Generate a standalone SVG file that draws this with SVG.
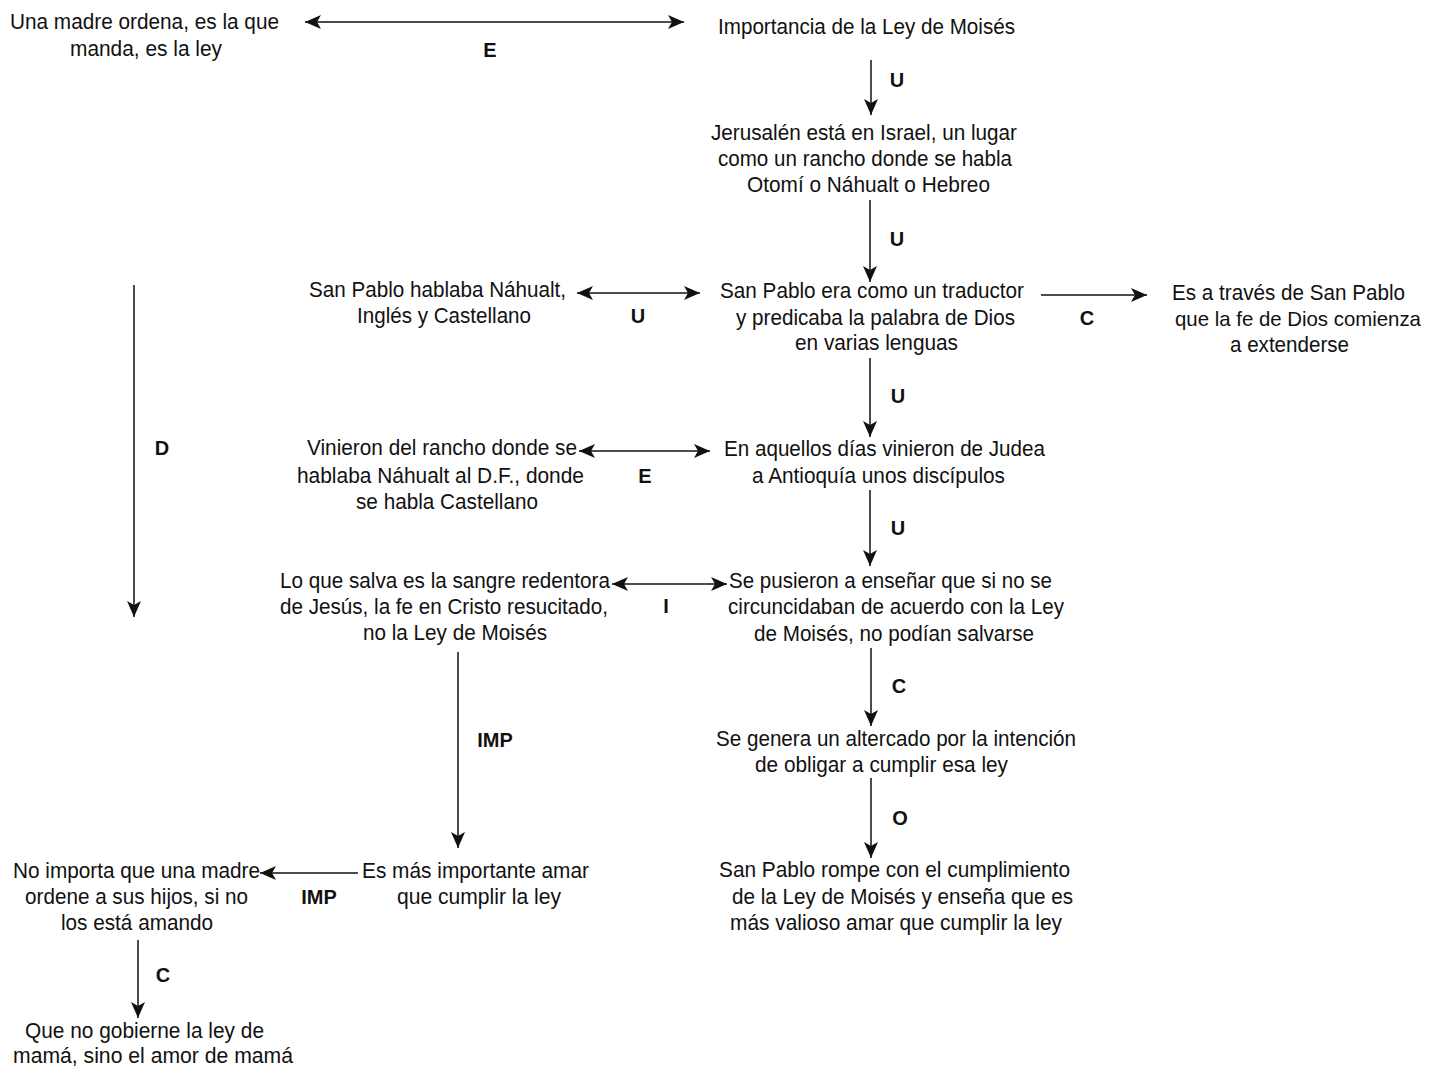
<svg xmlns="http://www.w3.org/2000/svg" width="1429" height="1068" viewBox="0 0 1429 1068">
<style>
.t{font-family:"Liberation Sans Narrow","Liberation Sans",Arial,sans-serif;font-size:22px;fill:#111}
.l{font-family:"Liberation Sans",Arial,sans-serif;font-size:20px;font-weight:bold;fill:#111}
.c{stroke:#111;stroke-width:1.5;fill:none}
</style>
<defs>
<marker id="ah" markerUnits="userSpaceOnUse" markerWidth="18" markerHeight="14" refX="16" refY="7" orient="auto-start-reverse"><path d="M0,0 L16,7 L0,14 L4,7 Z" fill="#111"/></marker>
</defs>
<rect width="1429" height="1068" fill="#fff"/>
<g id="connectors">
<line class="c" x1="305" y1="22" x2="684" y2="22" marker-start="url(#ah)" marker-end="url(#ah)"/>
<line class="c" x1="871" y1="60" x2="871" y2="115" marker-end="url(#ah)"/>
<line class="c" x1="870" y1="200" x2="870" y2="282" marker-end="url(#ah)"/>
<line class="c" x1="577" y1="293" x2="700" y2="293" marker-start="url(#ah)" marker-end="url(#ah)"/>
<line class="c" x1="1041" y1="295" x2="1147" y2="295" marker-end="url(#ah)"/>
<line class="c" x1="870" y1="358" x2="870" y2="437" marker-end="url(#ah)"/>
<line class="c" x1="579" y1="451" x2="710" y2="451" marker-start="url(#ah)" marker-end="url(#ah)"/>
<line class="c" x1="870" y1="490" x2="870" y2="566" marker-end="url(#ah)"/>
<line class="c" x1="612" y1="584" x2="727" y2="584" marker-start="url(#ah)" marker-end="url(#ah)"/>
<line class="c" x1="871" y1="648" x2="871" y2="726" marker-end="url(#ah)"/>
<line class="c" x1="871" y1="778" x2="871" y2="858" marker-end="url(#ah)"/>
<line class="c" x1="134" y1="285" x2="134" y2="617" marker-end="url(#ah)"/>
<line class="c" x1="458" y1="652" x2="458" y2="848" marker-end="url(#ah)"/>
<line class="c" x1="358" y1="873" x2="260" y2="873" marker-end="url(#ah)"/>
<line class="c" x1="138" y1="940" x2="138" y2="1018" marker-end="url(#ah)"/>
<text class="l" x="490" y="57" text-anchor="middle">E</text>
<text class="l" x="897" y="87" text-anchor="middle">U</text>
<text class="l" x="897" y="246" text-anchor="middle">U</text>
<text class="l" x="638" y="323" text-anchor="middle">U</text>
<text class="l" x="1087" y="325" text-anchor="middle">C</text>
<text class="l" x="898" y="403" text-anchor="middle">U</text>
<text class="l" x="645" y="483" text-anchor="middle">E</text>
<text class="l" x="898" y="535" text-anchor="middle">U</text>
<text class="l" x="666" y="613" text-anchor="middle">I</text>
<text class="l" x="899" y="693" text-anchor="middle">C</text>
<text class="l" x="900" y="825" text-anchor="middle">O</text>
<text class="l" x="162" y="455" text-anchor="middle">D</text>
<text class="l" x="495" y="747" text-anchor="middle">IMP</text>
<text class="l" x="319" y="904" text-anchor="middle">IMP</text>
<text class="l" x="163" y="982" text-anchor="middle">C</text>
</g>
<g id="n1"><text class="t" x="10" y="29" textLength="269" lengthAdjust="spacingAndGlyphs">Una madre ordena, es la que</text><text class="t" x="70" y="56" textLength="152" lengthAdjust="spacingAndGlyphs">manda, es la ley</text></g>
<g id="n2"><text class="t" x="718" y="34" textLength="297" lengthAdjust="spacingAndGlyphs">Importancia de la Ley de Moisés</text></g>
<g id="n3"><text class="t" x="711" y="140" textLength="306" lengthAdjust="spacingAndGlyphs">Jerusalén está en Israel, un lugar</text><text class="t" x="718" y="166" textLength="294" lengthAdjust="spacingAndGlyphs">como un rancho donde se habla</text><text class="t" x="747" y="192" textLength="243" lengthAdjust="spacingAndGlyphs">Otomí o Náhualt o Hebreo</text></g>
<g id="n4"><text class="t" x="309" y="297" textLength="257" lengthAdjust="spacingAndGlyphs">San Pablo hablaba Náhualt,</text><text class="t" x="357" y="323" textLength="174" lengthAdjust="spacingAndGlyphs">Inglés y Castellano</text></g>
<g id="n5"><text class="t" x="720" y="298" textLength="304" lengthAdjust="spacingAndGlyphs">San Pablo era como un traductor</text><text class="t" x="736" y="325" textLength="279" lengthAdjust="spacingAndGlyphs">y predicaba la palabra de Dios</text><text class="t" x="795" y="350" textLength="163" lengthAdjust="spacingAndGlyphs">en varias lenguas</text></g>
<g id="n6"><text class="t" x="1172" y="300" textLength="233" lengthAdjust="spacingAndGlyphs">Es a través de San Pablo</text><text class="t" x="1175" y="326" style="font-size:20.4px">que la fe de Dios comienza</text><text class="t" x="1230" y="352" textLength="119" lengthAdjust="spacingAndGlyphs">a extenderse</text></g>
<g id="n7"><text class="t" x="307" y="455" textLength="270" lengthAdjust="spacingAndGlyphs">Vinieron del rancho donde se</text><text class="t" x="297" y="483" textLength="287" lengthAdjust="spacingAndGlyphs">hablaba Náhualt al D.F., donde</text><text class="t" x="356" y="509" textLength="182" lengthAdjust="spacingAndGlyphs">se habla Castellano</text></g>
<g id="n8"><text class="t" x="724" y="456" textLength="321" lengthAdjust="spacingAndGlyphs">En aquellos días vinieron de Judea</text><text class="t" x="752" y="483" textLength="253" lengthAdjust="spacingAndGlyphs">a Antioquía unos discípulos</text></g>
<g id="n9"><text class="t" x="280" y="588" textLength="330" lengthAdjust="spacingAndGlyphs">Lo que salva es la sangre redentora</text><text class="t" x="280" y="614" textLength="328" lengthAdjust="spacingAndGlyphs">de Jesús, la fe en Cristo resucitado,</text><text class="t" x="363" y="640" textLength="184" lengthAdjust="spacingAndGlyphs">no la Ley de Moisés</text></g>
<g id="n10"><text class="t" x="729" y="588" textLength="323" lengthAdjust="spacingAndGlyphs">Se pusieron a enseñar que si no se</text><text class="t" x="728" y="614" textLength="336" lengthAdjust="spacingAndGlyphs">circuncidaban de acuerdo con la Ley</text><text class="t" x="754" y="641" textLength="280" lengthAdjust="spacingAndGlyphs">de Moisés, no podían salvarse</text></g>
<g id="n11"><text class="t" x="716" y="746" textLength="360" lengthAdjust="spacingAndGlyphs">Se genera un altercado por la intención</text><text class="t" x="755" y="772" textLength="253" lengthAdjust="spacingAndGlyphs">de obligar a cumplir esa ley</text></g>
<g id="n12"><text class="t" x="719" y="877" textLength="351" lengthAdjust="spacingAndGlyphs">San Pablo rompe con el cumplimiento</text><text class="t" x="732" y="904" textLength="341" lengthAdjust="spacingAndGlyphs">de la Ley de Moisés y enseña que es</text><text class="t" x="730" y="930" textLength="332" lengthAdjust="spacingAndGlyphs">más valioso amar que cumplir la ley</text></g>
<g id="n13"><text class="t" x="362" y="878" textLength="227" lengthAdjust="spacingAndGlyphs">Es más importante amar</text><text class="t" x="397" y="904" textLength="164" lengthAdjust="spacingAndGlyphs">que cumplir la ley</text></g>
<g id="n14"><text class="t" x="13" y="878" textLength="247" lengthAdjust="spacingAndGlyphs">No importa que una madre</text><text class="t" x="25" y="904" textLength="223" lengthAdjust="spacingAndGlyphs">ordene a sus hijos, si no</text><text class="t" x="61" y="930" textLength="152" lengthAdjust="spacingAndGlyphs">los está amando</text></g>
<g id="n15"><text class="t" x="25" y="1038" textLength="239" lengthAdjust="spacingAndGlyphs">Que no gobierne la ley de</text><text class="t" x="13" y="1063" textLength="280" lengthAdjust="spacingAndGlyphs">mamá, sino el amor de mamá</text></g>
</svg>
